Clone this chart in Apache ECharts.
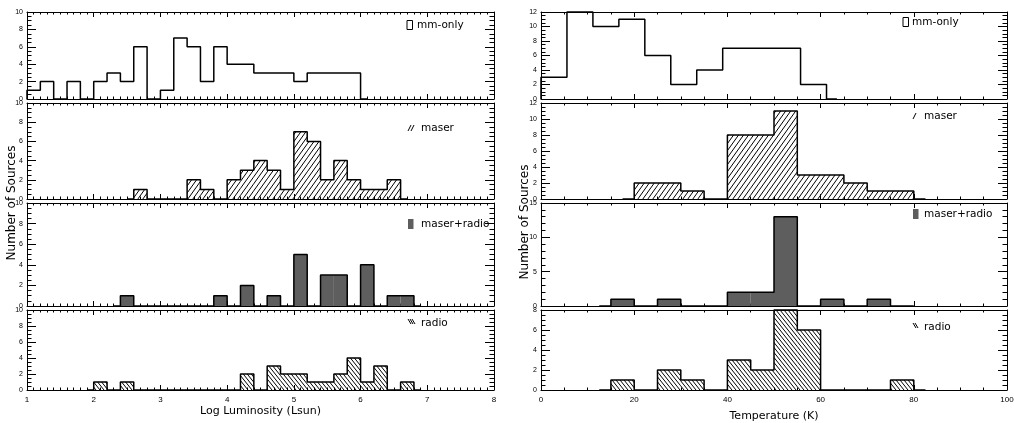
<!DOCTYPE html>
<html>
<head>
<meta charset="utf-8">
<script src="https://cdn.jsdelivr.net/npm/echarts@6/dist/echarts.min.js"></script>
<style>
html, body { margin: 0; padding: 0; background: #fff; }
#container { width: 1014px; height: 423px; }
</style>
</head>
<body>
<div id="container"></div>
<script>
// histogram bins: [low edge, high edge, number of sources]
// left column: Log Luminosity (Lsun)
var lumMmOnly = [[1.0,1.2,1],[1.2,1.4,2],[1.4,1.6,0],[1.6,1.8,2],[1.8,2.0,0],[2.0,2.2,2],[2.2,2.4,3],[2.4,2.6,2],[2.6,2.8,6],[2.8,3.0,0],
                 [3.0,3.2,1],[3.2,3.4,7],[3.4,3.6,6],[3.6,3.8,2],[3.8,4.0,6],[4.0,4.2,4],[4.2,4.4,4],[4.4,4.6,3],[4.6,4.8,3],[4.8,5.0,3],
                 [5.0,5.2,2],[5.2,5.4,3],[5.4,5.6,3],[5.6,5.8,3],[5.8,6.0,3]];
var lumMaser = [[2.6,2.8,1],[3.4,3.6,2],[3.6,3.8,1],[4.0,4.2,2],[4.2,4.4,3],[4.4,4.6,4],[4.6,4.8,3],[4.8,5.0,1],[5.0,5.2,7],[5.2,5.4,6],
                [5.4,5.6,2],[5.6,5.8,4],[5.8,6.0,2],[6.0,6.2,1],[6.2,6.4,1],[6.4,6.6,2]];
var lumMaserRadio = [[2.4,2.6,1],[3.8,4.0,1],[4.2,4.4,2],[4.6,4.8,1],[5.0,5.2,5],[5.4,5.6,3],[5.6,5.8,3],[6.0,6.2,4],[6.4,6.6,1],[6.6,6.8,1]];
var lumRadio = [[2.0,2.2,1],[2.4,2.6,1],[4.2,4.4,2],[4.6,4.8,3],[4.8,5.0,2],[5.0,5.2,2],[5.2,5.4,1],[5.4,5.6,1],[5.6,5.8,2],[5.8,6.0,4],
                [6.0,6.2,1],[6.2,6.4,3],[6.6,6.8,1]];
// where the zero line of each histogram starts and stops
var lumBaseline = [[1.0,6.1],[2.5,6.7],[2.3,6.9],[1.9,6.9]];

// right column: Temperature (K)
var tempMmOnly = [[0,5.57,3],[5.57,11.14,12],[11.14,16.71,10],[16.71,22.28,11],[22.28,27.85,6],[27.85,33.42,2],[33.42,38.99,4],
                  [38.99,44.56,7],[44.56,50.13,7],[50.13,55.7,7],[55.7,61.27,2]];
var tempMaser = [[20,25,2],[25,30,2],[30,35,1],[40,45,8],[45,50,8],[50,55,11],[55,60,3],[60,65,3],[65,70,2],[70,75,1],[75,80,1]];
var tempMaserRadio = [[15,20,1],[25,30,1],[40,45,2],[45,50,2],[50,55,13],[60,65,1],[70,75,1]];
var tempRadio = [[15,20,1],[25,30,2],[30,35,1],[40,45,3],[45,50,2],[50,55,8],[55,60,6],[75,80,1]];
var tempBaseline = [[0,63.5],[17.5,82.5],[12.5,80],[12.5,82.5]];

var groupNames = ['mm-only', 'maser', 'maser+radio', 'radio'];
var lumYMax = [10, 10, 10, 10];
var lumYStep = [2, 2, 2, 2];
var tempYMax = [12, 12, 15, 8];
var tempYStep = [2, 2, 5, 2];

// panel placement (top, height) shared by both columns
var panelTop = [12, 103, 203, 310];
var panelHeight = [87, 96, 103, 80];

function hatch(w, h, back) {
    var c = document.createElement('canvas');
    c.width = w; c.height = h;
    var g = c.getContext('2d');
    g.strokeStyle = '#000';
    g.lineWidth = 1;
    for (var k = -1; k <= 1; k++) {
        g.beginPath();
        if (back) {
            g.moveTo(k * w - w, -h); g.lineTo(k * w + 2 * w, 2 * h);
        } else {
            g.moveTo(k * w - w, 2 * h); g.lineTo(k * w + 2 * w, -h);
        }
        g.stroke();
    }
    return { image: c, repeat: 'repeat' };
}

var fills = [null, hatch(5, 7, false), '#5e5e5e', hatch(4, 5, true)];

function outline(bins, range) {
    var pts = [[range[0], 0]];
    var prev = null;
    bins.forEach(function (b) {
        if (prev === null) {
            pts.push([b[0], 0]);
        } else if (prev[1] < b[0] - 1e-6) {
            pts.push([prev[1], 0]);
            pts.push([b[0], 0]);
        }
        pts.push([b[0], b[2]]);
        pts.push([b[1], b[2]]);
        prev = b;
    });
    pts.push([prev[1], 0]);
    pts.push([range[1], 0]);
    return pts;
}

var columns = [
    { left: 27, width: 467, xMin: 1, xMax: 8, xStep: 1, xMinor: 10, name: 'Log Luminosity (Lsun)', nameGap: 16,
      data: [lumMmOnly, lumMaser, lumMaserRadio, lumRadio], base: lumBaseline, yMax: lumYMax, yStep: lumYStep, yMinor: [4, 4, 4, 4] },
    { left: 541, width: 466, xMin: 0, xMax: 100, xStep: 20, xMinor: 4, name: 'Temperature (K)', nameGap: 21,
      data: [tempMmOnly, tempMaser, tempMaserRadio, tempRadio], base: tempBaseline, yMax: tempYMax, yStep: tempYStep, yMinor: [4, 4, 5, 4] }
];

var grids = [], xBottom = [], xTop = [], yLeft = [], yRight = [], series = [];
var black = { color: '#000', width: 1 };
var tickFont = { color: '#000', fontSize: 7, fontFamily: 'Liberation Sans' };

columns.forEach(function (col, c) {
    for (var p = 0; p < 4; p++) {
        var gi = c * 4 + p;
        grids.push({ left: col.left, top: panelTop[p], width: col.width, height: panelHeight[p], outerBoundsMode: 'none' });
        var xBase = {
            gridIndex: gi, type: 'value', min: col.xMin, max: col.xMax, interval: col.xStep,
            axisLine: { show: true, onZero: false, lineStyle: black },
            axisTick: { show: true, inside: true, length: 5, lineStyle: black },
            minorTick: { show: true, splitNumber: col.xMinor, length: 2.5, lineStyle: black },
            splitLine: { show: false }
        };
        xBottom.push(Object.assign({}, xBase, {
            position: 'bottom',
            axisLabel: Object.assign({ show: p === 3, margin: 6 }, tickFont, { fontSize: 8 }),
            name: p === 3 ? col.name : '',
            nameLocation: 'middle', nameGap: col.nameGap,
            nameTextStyle: { color: '#000', fontSize: 11, fontFamily: 'DejaVu Sans' }
        }));
        xTop.push(Object.assign({}, xBase, { position: 'top', axisLabel: { show: false } }));
        var yBase = {
            gridIndex: gi, type: 'value', min: 0, max: col.yMax[p], interval: col.yStep[p],
            axisLine: { show: true, onZero: false, lineStyle: black },
            axisTick: { show: true, inside: true, length: 9, lineStyle: black },
            minorTick: { show: true, splitNumber: col.yMinor[p], length: 4.5, lineStyle: black },
            splitLine: { show: false }
        };
        yLeft.push(Object.assign({}, yBase, { position: 'left', axisLabel: Object.assign({ margin: 4 }, tickFont) }));
        yRight.push(Object.assign({}, yBase, { position: 'right', axisLabel: { show: false } }));

        if (fills[p]) {
            series.push({
                type: 'custom', xAxisIndex: gi, yAxisIndex: gi,
                data: col.data[p].filter(function (b) { return b[2] > 0; }),
                renderItem: (function (fill) {
                    return function (params, api) {
                        var a = api.coord([api.value(0), api.value(2)]);
                        var b = api.coord([api.value(1), 0]);
                        return { type: 'rect', shape: { x: a[0], y: a[1], width: b[0] - a[0], height: b[1] - a[1] },
                                 style: { fill: fill, stroke: null } };
                    };
                })(fills[p]),
                silent: true, z: 2
            });
        }
        series.push({
            type: 'line', xAxisIndex: gi, yAxisIndex: gi,
            data: outline(col.data[p], col.base[p]),
            symbol: 'none', clip: false, silent: true, z: 3,
            lineStyle: { color: '#000', width: 1.5 }
        });
    }
});

// legend keys drawn inside each panel
function stroke(x1, y1, x2, y2) {
    return { type: 'line', shape: { x1: x1, y1: y1, x2: x2, y2: y2 }, style: { stroke: '#000', lineWidth: 1 } };
}
function legendItems(iconX, textX, ys, fontSize, slashes, backslashes) {
    var els = [];
    els.push({ type: 'rect', shape: { x: iconX[0], y: ys[0] - 4.5, width: 5.5, height: 9 }, style: { fill: '#fff', stroke: '#000', lineWidth: 1 } });
    for (var s = 0; s < slashes; s++) {
        els.push(stroke(iconX[1] + s * 3, ys[1] + 3, iconX[1] + 3 + s * 3, ys[1] - 3));
    }
    els.push({ type: 'rect', shape: { x: iconX[2], y: ys[2] - 5, width: 5.5, height: 10 }, style: { fill: '#5e5e5e' } });
    for (var k = 0; k < backslashes; k++) {
        els.push(stroke(iconX[3] + k * 2, ys[3] - 4, iconX[3] + 3 + k * 2, ys[3] + 1));
    }
    for (var i = 0; i < 4; i++) {
        els.push({ type: 'text', x: textX[i], y: ys[i],
            style: { text: groupNames[i], fill: '#000', fontSize: fontSize, fontFamily: 'DejaVu Sans', verticalAlign: 'middle' } });
    }
    return els;
}

var graphics = []
    .concat(legendItems([407, 408, 408, 408], [417, 421, 421, 421], [25, 128, 224, 323], 10.5, 2, 3))
    .concat(legendItems([903, 913, 913, 913], [912, 924, 924, 924], [22, 116, 214, 327], 10.5, 1, 2));
graphics.push({ type: 'text', x: 12, y: 203, rotation: Math.PI / 2,
    style: { text: 'Number of Sources', fill: '#000', fontSize: 12, fontFamily: 'DejaVu Sans', align: 'center', verticalAlign: 'middle' } });
graphics.push({ type: 'text', x: 525, y: 222, rotation: Math.PI / 2,
    style: { text: 'Number of Sources', fill: '#000', fontSize: 12, fontFamily: 'DejaVu Sans', align: 'center', verticalAlign: 'middle' } });

var myChart = echarts.init(document.getElementById('container'), null, { renderer: 'canvas' });
myChart.setOption({
    animation: false,
    backgroundColor: '#fff',
    grid: grids,
    xAxis: xBottom.concat(xTop),
    yAxis: yLeft.concat(yRight),
    series: series,
    graphic: graphics
});
window.addEventListener('resize', myChart.resize);
</script>
</body>
</html>
